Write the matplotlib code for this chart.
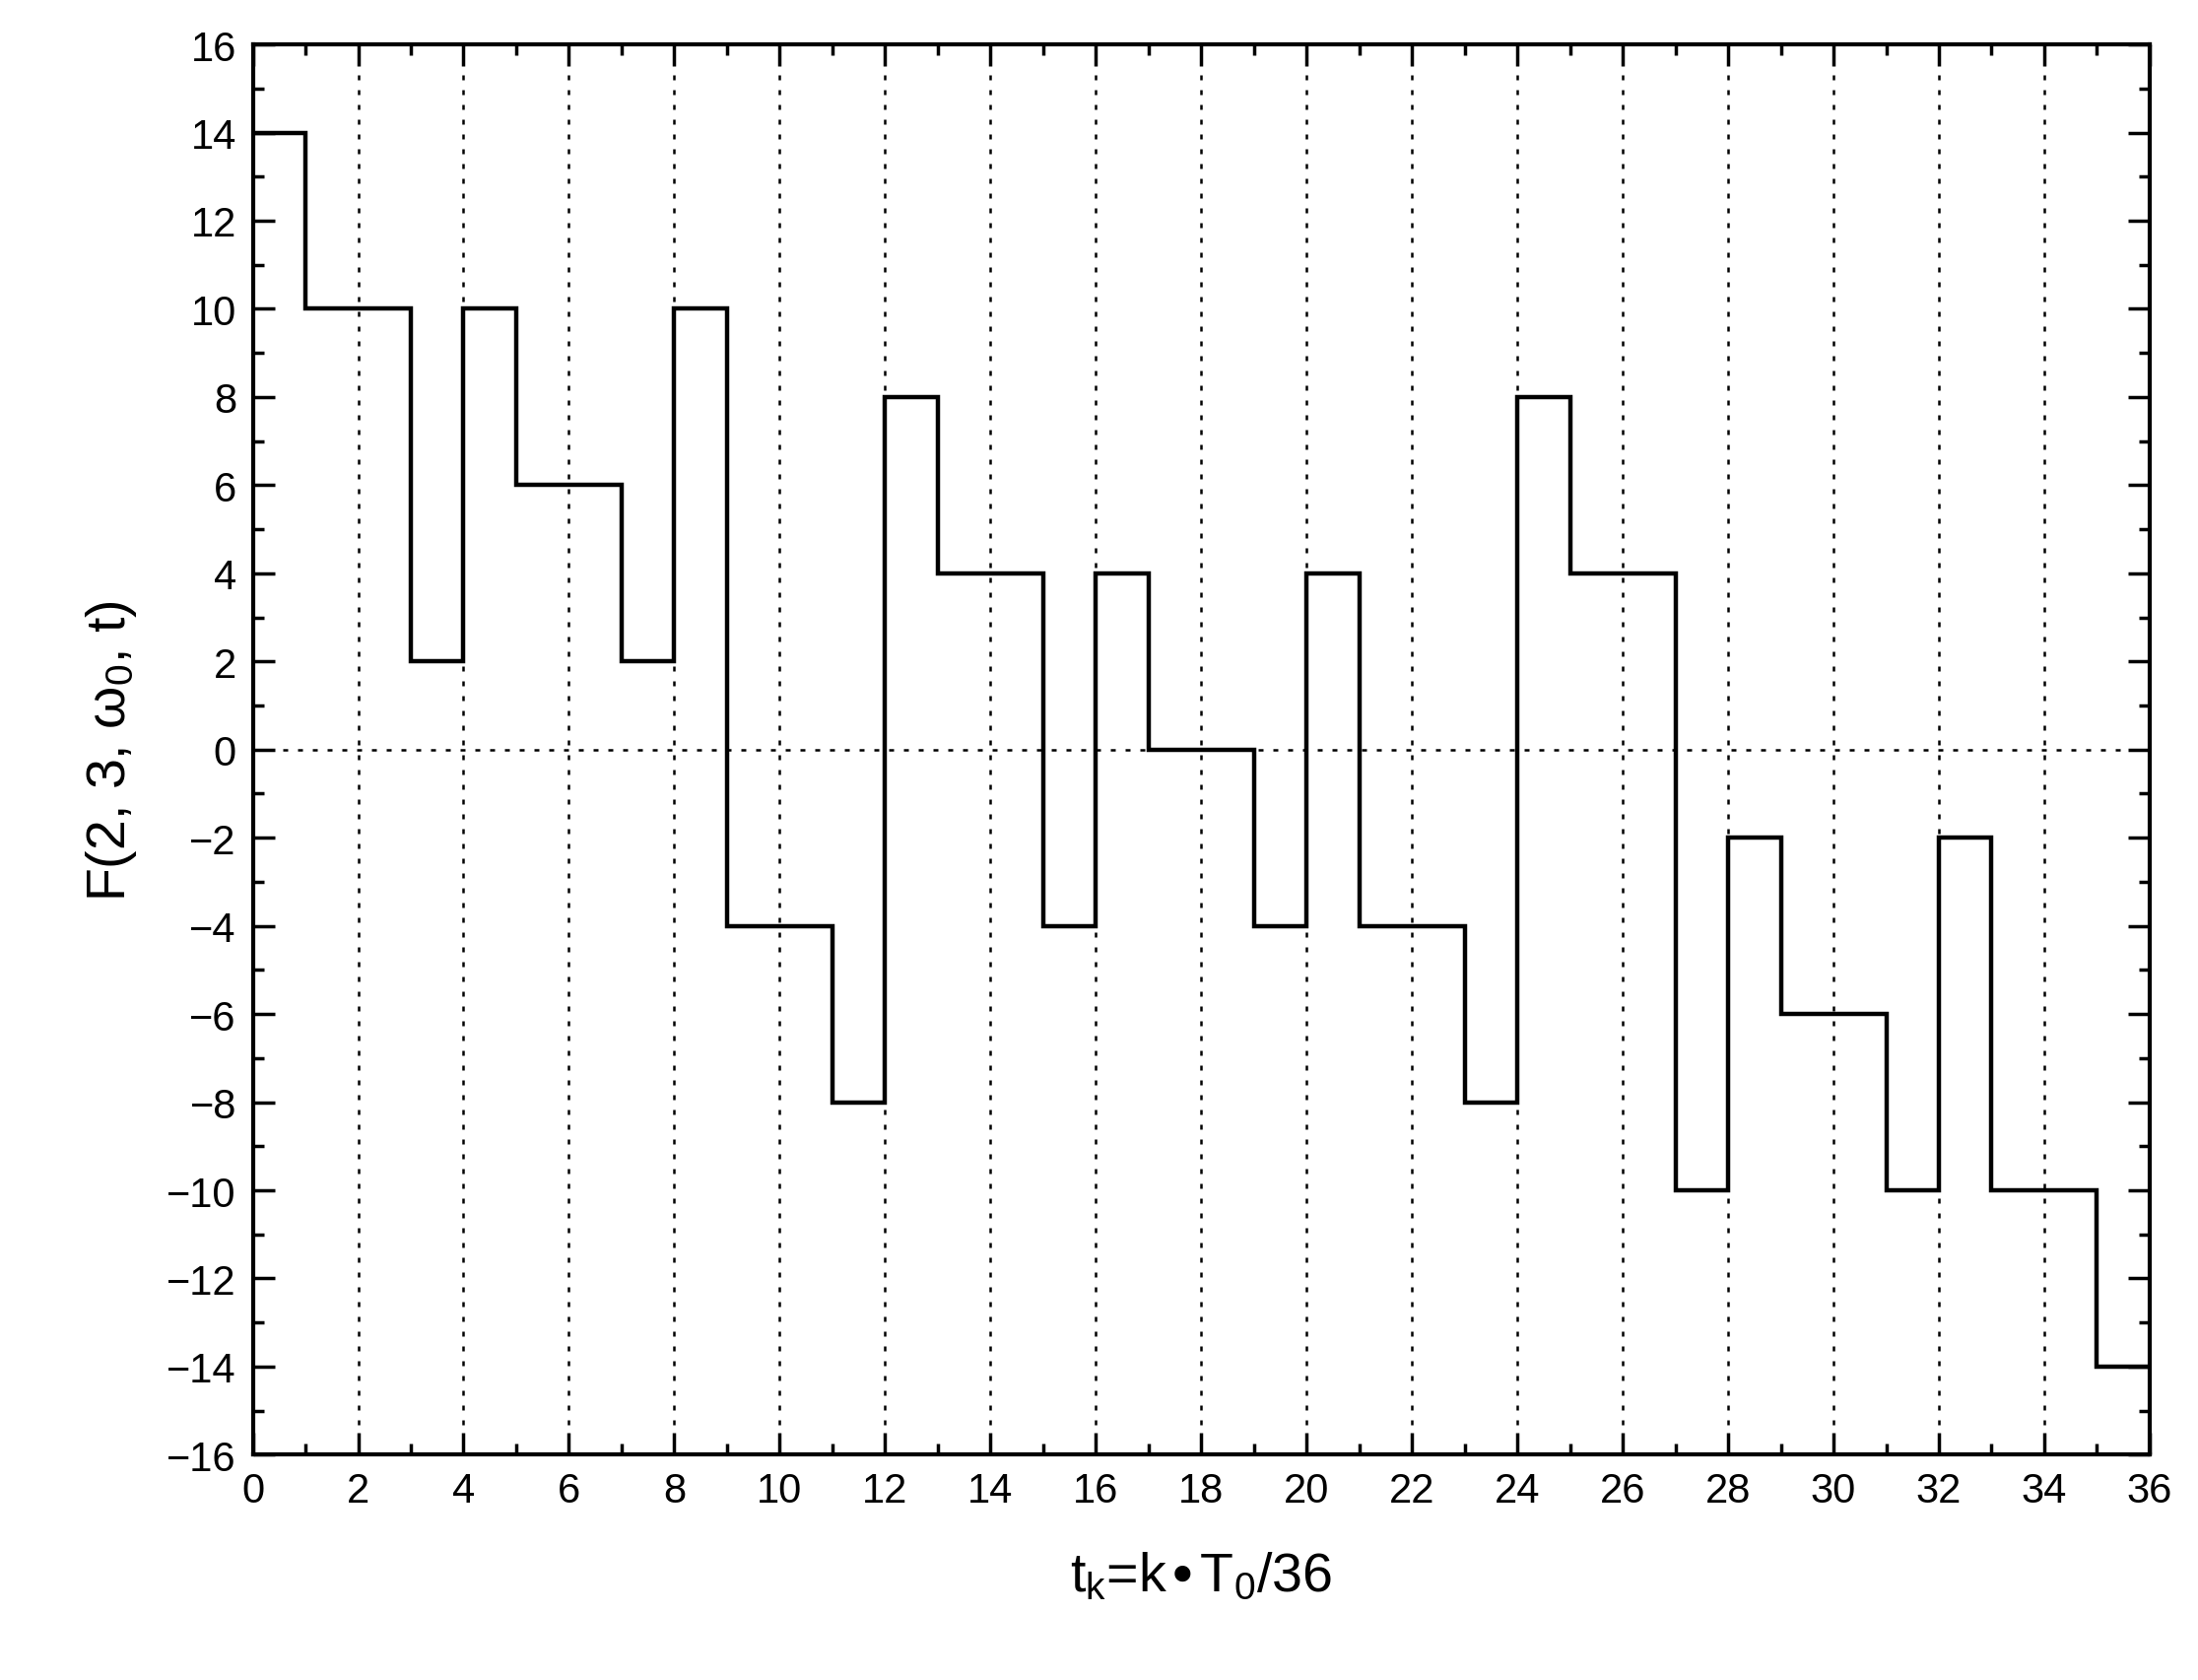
import matplotlib
matplotlib.use('Agg')
import matplotlib.pyplot as plt
from matplotlib.ticker import MultipleLocator

# step edges and the value held on each interval
edges = [0, 1, 3, 4, 5, 7, 8, 9, 11, 12, 13, 15, 16, 17, 19, 20, 21, 23, 24,
         25, 27, 28, 29, 31, 32, 33, 35, 36]
levels = [14, 10, 2, 10, 6, 2, 10, -4, -8, 8, 4, -4, 4, 0, -4, 4, -4, -8, 8,
          4, -10, -2, -6, -10, -2, -10, -14]

plt.rcParams['font.family'] = ['Liberation Sans', 'DejaVu Sans']

fig = plt.figure(figsize=(22.31, 17.06), dpi=100)
ax = fig.add_axes([0.115, 0.134, 0.863, 0.839])

ax.stairs(levels, edges, color='black', linewidth=3.2, baseline=None)

for x in range(2, 36, 2):
    ax.axvline(x, color='black', linestyle=(0, (2, 4)), linewidth=1.8, zorder=0)
ax.axhline(0, color='black', linestyle=(0, (2, 4)), linewidth=1.8, zorder=0)

ax.set_xlim(0, 36)
ax.set_ylim(-16, 16)
ax.xaxis.set_major_locator(MultipleLocator(2))
ax.xaxis.set_minor_locator(MultipleLocator(1))
ax.yaxis.set_major_locator(MultipleLocator(2))
ax.yaxis.set_minor_locator(MultipleLocator(1))
ax.tick_params(which='both', direction='in', top=True, right=True,
               labelsize=30, width=2.5, pad=12)
ax.tick_params(which='major', length=16)
ax.tick_params(which='minor', length=8)
for s in ax.spines.values():
    s.set_linewidth(3)

ax.set_xlabel(r'$\mathregular{t_k}$=k$\bullet$$\mathregular{T_0}$/36', fontsize=40, labelpad=30)
ax.set_ylabel(r'F(2, 3, $\mathregular{\omega_0}$, t)', fontsize=40, labelpad=20)

fig.savefig('out.png', dpi=100)
